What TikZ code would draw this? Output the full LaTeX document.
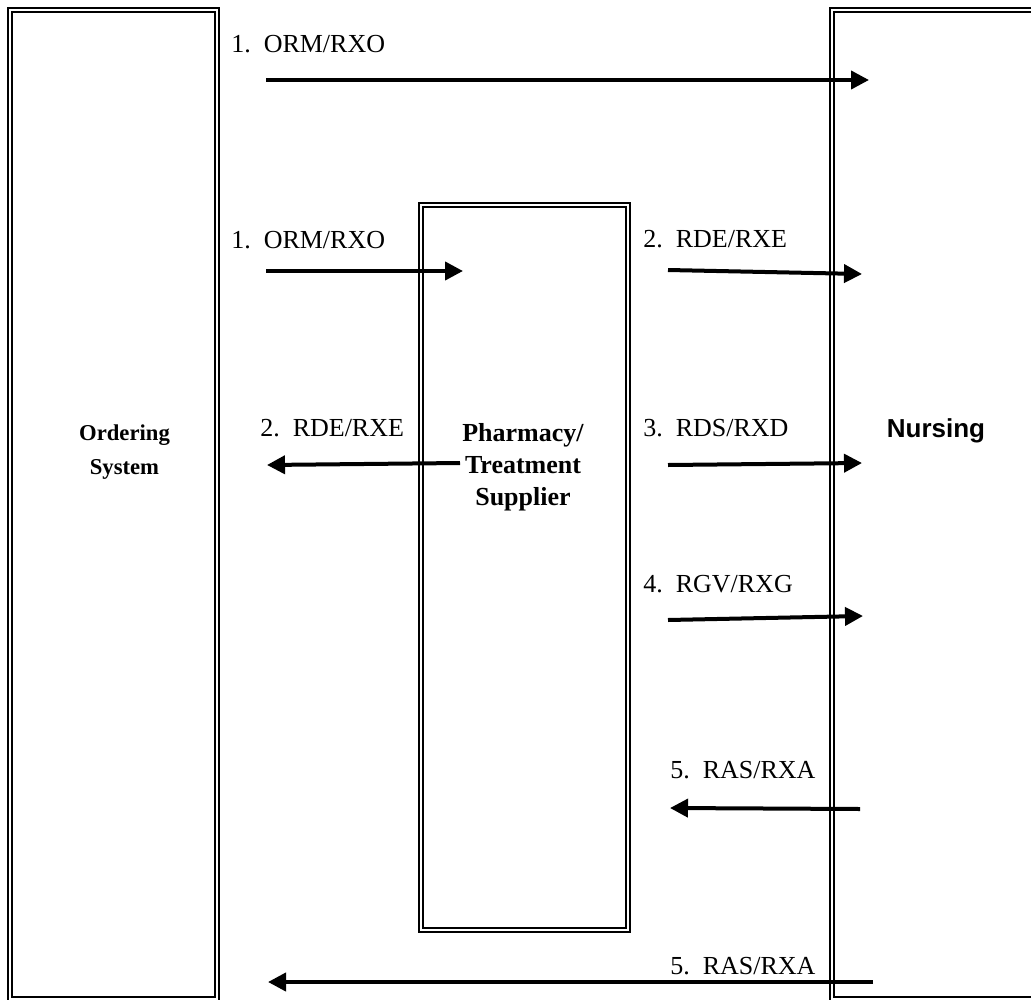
\documentclass[tikz,border=0pt]{standalone}
\usepackage{fontspec}
\setmainfont{Liberation Serif}
\newfontfamily\nursefont{Liberation Sans}
\usetikzlibrary{arrows.meta}

\begin{document}
\begin{tikzpicture}[
  x=0.75pt, y=-0.75pt,
  sysbox/.style={draw=black, double, double distance=2pt, line width=1pt, minimum width=155.25pt, minimum height=741.75pt, inner sep=0pt},
  boxname/.style={font=\fontsize{19.5}{24}\selectfont\bfseries, align=center, anchor=base, inner sep=0pt},
  msg/.style={font=\fontsize{19.5}{23}\selectfont, anchor=base west, inner sep=0pt},
  flow/.style={line width=3pt, -{Triangle[length=13.5pt, width=13.5pt]}}
]
  \useasboundingbox (0,0) rectangle (1031,999);
  % the three systems
  \node[sysbox] (ord) at (113.5,504.5) {};
  \node[sysbox, minimum height=543.75pt] (pharm) at (524.5,567.5) {};
  \node[sysbox, minimum width=156pt] (nurse) at (936,504.5) {};
  \node[boxname, font=\fontsize{17}{25.5}\selectfont\bfseries] (ordname) at (124.5,474) {Ordering\\System};
  \node[boxname] (pharmname) at (523,505) {Pharmacy/\\Treatment\\Supplier};
  \node[boxname, font=\fontsize{19.5}{22}\selectfont\nursefont\bfseries] (nursename) at (936,437) {Nursing};
  % message labels
  \node[msg] (m1a) at (231,53) {1.\ \ ORM/RXO};
  \node[msg] (m1b) at (231,248) {1.\ \ ORM/RXO};
  \node[msg] (m2a) at (643,247) {2.\ \ RDE/RXE};
  \node[msg] (m2b) at (260,436) {2.\ \ RDE/RXE};
  \node[msg] (m3) at (643,436) {3.\ \ RDS/RXD};
  \node[msg] (m4) at (643,592) {4.\ \ RGV/RXG};
  \node[msg] (m5a) at (670,778) {5.\ \ RAS/RXA};
  \node[msg] (m5b) at (670,974) {5.\ \ RAS/RXA};
  % arrow ends
  \coordinate (a1s) at (266,80);   \coordinate (a1e) at (869,80);
  \coordinate (a2s) at (266,271);  \coordinate (a2e) at (463,271);
  \coordinate (a3s) at (668,270);  \coordinate (a3e) at (862,274);
  \coordinate (a4s) at (460,463);  \coordinate (a4e) at (267,465);
  \coordinate (a5s) at (668,465);  \coordinate (a5e) at (862,463);
  \coordinate (a6s) at (668,620);  \coordinate (a6e) at (863,616);
  \coordinate (a7s) at (860,809);  \coordinate (a7e) at (670,808);
  \coordinate (a8s) at (873,982);  \coordinate (a8e) at (268,982);
  \draw[flow] (a1s) -- (a1e);
  \draw[flow] (a2s) -- (a2e);
  \draw[flow] (a3s) -- (a3e);
  \draw[flow] (a4s) -- (a4e);
  \draw[flow] (a5s) -- (a5e);
  \draw[flow] (a6s) -- (a6e);
  \draw[flow] (a7s) -- (a7e);
  \draw[flow] (a8s) -- (a8e);
\end{tikzpicture}
\end{document}
